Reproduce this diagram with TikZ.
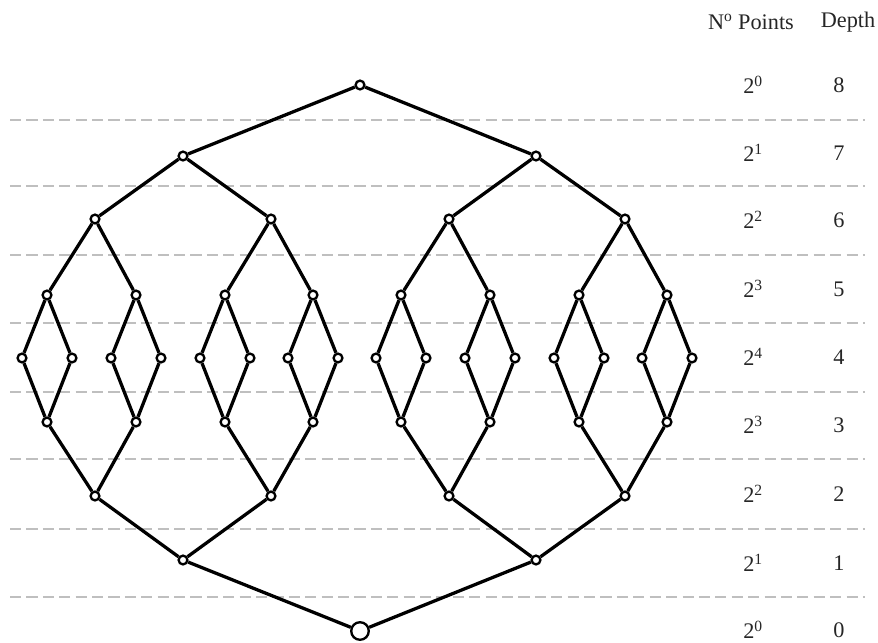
\documentclass[tikz,border=0pt]{standalone}
\usepackage{fontspec}
\setmainfont{Liberation Serif}
\usepackage{tikz}
\usetikzlibrary{positioning}

\tikzset{
  vtx/.style={draw, circle, fill=white, line width=2pt, inner sep=0pt, minimum size=7.5pt},
  bigvtx/.style={vtx, minimum size=15pt},
  edge/.style={line width=2.8pt},
  guide/.style={gray!50, line width=0.9pt, dash pattern=on 9.5pt off 4.5pt},
  lbl/.style={font=\fontsize{19}{23}\selectfont, text=black!85}
}

\begin{document}
\begin{tikzpicture}[x=0.03cm, y=-0.03cm]
    \useasboundingbox (0,0) rectangle (878,642);

    % Lignes de niveau
    \foreach \yy [count=\k] in {120,186,255,323,392,459,529,597}
        \draw[guide] (10,\yy) coordinate (gl\k) -- (865,\yy) coordinate (gr\k);

    % En-tete et colonnes
    \node[lbl] (hpts)  at (751,22) {N\textsuperscript{o} Points};
    \node[lbl] (hdep)  at (848,22) {Depth};
    \foreach \yy/\np/\dd in {85/0/8, 153/1/7, 220/2/6, 289/3/5, 357/4/4, 425/3/3, 494/2/2, 563/1/1, 630/0/0} {
        \node[lbl] (pts\dd) at (753,\yy) {2\textsuperscript{\np}};
        \node[lbl] (dep\dd) at (839,\yy) {\dd};
    }

    % Points par niveau
    \foreach \lv/\yy/\xs in {
        8/85/{360},
        7/156/{183,536},
        6/219/{95,271,449,625},
        5/295/{47,136,225,313,401,490,579,667},
        4/358/{22,72,111,161,200,250,288,338,376,426,465,515,554,604,642,692},
        3/422/{47,136,225,313,401,490,579,667},
        2/496/{95,271,449,625},
        1/560/{183,536}} {
        \foreach \xx [count=\j] in \xs
            \node[vtx] (d\lv-\j) at (\xx,\yy) {};
    }
    \node[bigvtx] (d0-1) at (360,631) {};

    % Aretes : moitie haute
    \foreach \lv/\n in {7/2, 6/4, 5/8, 4/16} {
        \pgfmathtruncatemacro\up{\lv+1}
        \foreach \j in {1,...,\n} {
            \pgfmathtruncatemacro\p{(\j+1)/2}
            \draw[edge] (d\up-\p) -- (d\lv-\j);
        }
    }
    % Aretes : moitie basse
    \foreach \lv/\n in {4/16, 3/8, 2/4, 1/2} {
        \pgfmathtruncatemacro\dn{\lv-1}
        \foreach \j in {1,...,\n} {
            \pgfmathtruncatemacro\p{(\j+1)/2}
            \draw[edge] (d\lv-\j) -- (d\dn-\p);
        }
    }
\end{tikzpicture}
\end{document}
